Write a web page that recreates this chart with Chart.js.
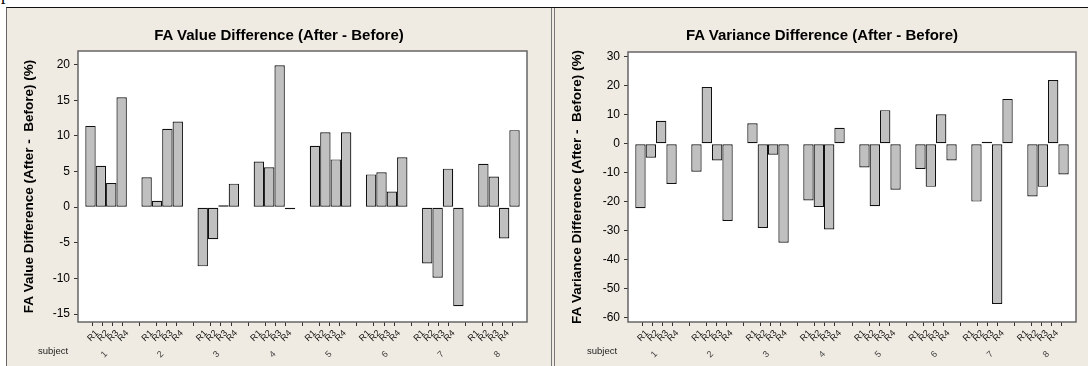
<!DOCTYPE html>
<html>
<head>
<meta charset="utf-8">
<title>FA difference charts</title>
<script src="https://cdn.jsdelivr.net/npm/chart.js"></script>
<style>
  body {
    margin: 0;
    width: 1088px;
    height: 366px;
    overflow: hidden;
    position: relative;
    background: #fff;
    font-family: "Liberation Sans", Arial, Helvetica, sans-serif;
  }
  .back {
    position: absolute;
    left: 6px; top: 7px; right: 0; bottom: 0;
    background: #efebe2;
    border-top: 1px solid #111;
    border-left: 1px solid #666;
  }
  .sep {
    position: absolute;
    top: 8px; bottom: 0;
    width: 1px;
    background: #777;
  }
  canvas { position: absolute; top: 8px; }
  .title {
    position: absolute;
    top: 25px;
    font-weight: bold;
    font-size: 15px;
    line-height: 19px;
    text-align: center;
    color: #000;
  }
  .subj {
    position: absolute;
    top: 345px;
    font-size: 9.5px;
    color: #222;
  }
  .cut {
    position: absolute;
    top: -16px; left: 1px;
    font-family: "Liberation Serif", serif;
    font-size: 18px;
  }
</style>
</head>
<body>
<div class="cut">p</div>
<div class="back"></div>
<div class="sep" style="left:551px"></div>
<div class="sep" style="left:554px"></div>

<canvas id="c1" width="544" height="358" style="left:7px"></canvas>
<canvas id="c2" width="532" height="358" style="left:556px"></canvas>

<div class="title" style="left:7px;width:544px">FA Value Difference (After - Before)</div>
<div class="title" style="left:556px;width:532px">FA Variance Difference (After - Before)</div>
<div class="subj" style="left:38px">subject</div>
<div class="subj" style="left:587px">subject</div>

<script>
  var subjects = ['1', '2', '3', '4', '5', '6', '7', '8'];
  var runs = ['R1', 'R2', 'R3', 'R4'];

  // FA value difference (%), one array per run, one value per subject
  var valueR1 = [11.4, 4.2, -8.3, 6.4, 8.6, 4.6, -7.9, 6.1];
  var valueR2 = [5.8, 0.9, -4.5, 5.6, 10.5, 4.9, -9.9, 4.3];
  var valueR3 = [3.4, 11.0, 0.05, 19.9, 6.7, 2.2, 5.4, -4.4];
  var valueR4 = [15.4, 12.0, 3.3, -0.15, 10.5, 7.0, -13.9, 10.8];

  // FA variance difference (%)
  var varR1 = [-22.3, -9.7, 7.1, -19.6, -8.2, -8.7, -20.0, -18.2];
  var varR2 = [-4.8, 19.6, -29.1, -21.9, -21.6, -14.9, 0.7, -14.9];
  var varR3 = [7.9, -5.8, -3.8, -29.6, 11.6, 10.2, -55.4, 22.0];
  var varR4 = [-13.9, -26.7, -34.2, 5.5, -15.9, -5.8, 15.5, -10.6];

  var valueTicks = [-15, -10, -5, 0, 5, 10, 15, 20];
  var varTicks = [-60, -50, -40, -30, -20, -10, 0, 10, 20, 30];

  var catPct = 0.74;

  Chart.defaults.font.family = '"Liberation Sans", Arial, Helvetica, sans-serif';

  // white plot area with a grey box round it
  var frame = {
    id: 'frame',
    beforeDraw: function(c) {
      var a = c.chartArea, ctx = c.ctx;
      ctx.save();
      ctx.fillStyle = '#fff';
      ctx.fillRect(a.left, a.top, a.right - a.left, a.bottom - a.top);
      ctx.restore();
    },
    afterDraw: function(c) {
      var a = c.chartArea, ctx = c.ctx;
      ctx.save();
      ctx.strokeStyle = '#666';
      ctx.lineWidth = 1.5;
      ctx.strokeRect(a.left, a.top, a.right - a.left, a.bottom - a.top);
      ctx.restore();
    }
  };

  function makeChart(id, series, yTicks, yMin, yMax, yTitle, opt) {
    return new Chart(document.getElementById(id), {
      type: 'bar',
      data: {
        labels: subjects,
        datasets: series.map(function(d, i) {
          return {
            label: runs[i],
            data: d,
            backgroundColor: '#c0c0c0',
            borderColor: '#111',
            borderWidth: 1.2,
            borderSkipped: false,
            minBarLength: 2,
            barPercentage: 1,
            categoryPercentage: catPct
          };
        })
      },
      options: {
        responsive: false,
        animation: false,
        layout: { padding: { top: opt.top, right: opt.right, left: 0, bottom: 0 } },
        plugins: { legend: { display: false }, tooltip: { enabled: false } },
        scales: {
          x: {
            type: 'category',
            position: 'bottom',
            weight: 2,
            grid: { display: false, drawTicks: false },
            border: { display: false },
            ticks: { font: { size: 9 }, color: '#444', minRotation: 45, maxRotation: 45, padding: 3 },
            afterFit: function(s) { s.height = 20; }
          },
          xr: {
            type: 'linear',
            position: 'bottom',
            weight: 1,
            min: -0.5,
            max: 7.5,
            grid: { display: true, drawOnChartArea: false, drawTicks: true, tickLength: 4, color: '#333' },
            border: { display: false },
            afterBuildTicks: function(s) {
              var t = [];
              subjects.forEach(function(g, gi) {
                runs.forEach(function(r, ri) {
                  t.push({ value: gi + (ri - 1.5) * catPct / 4 });
                });
              });
              s.ticks = t;
            },
            ticks: {
              autoSkip: false,
              minRotation: 45,
              maxRotation: 45,
              padding: 2,
              font: { size: 9 },
              color: '#111',
              callback: function(v, i) { return runs[i % 4]; }
            },
            afterFit: function(s) { s.height = 24; }
          },
          y: {
            min: yMin,
            max: yMax,
            afterBuildTicks: function(s) {
              s.ticks = yTicks.map(function(v) { return { value: v }; });
            },
            grid: { drawOnChartArea: false, tickLength: 4, color: '#333' },
            border: { display: false },
            ticks: { font: { size: 12 }, color: '#000', padding: 4 },
            title: {
              display: true,
              text: yTitle,
              font: { size: 13.5, weight: 'bold' },
              color: '#000',
              padding: { top: opt.titlePad, bottom: 0 }
            },
            afterFit: function(s) { s.width = opt.yWidth; }
          }
        }
      },
      plugins: [frame]
    });
  }

  makeChart('c1', [valueR1, valueR2, valueR3, valueR4], valueTicks, -16.1, 21.9,
    'FA Value Difference (After -  Before) (%)',
    { top: 43, right: 24, yWidth: 71, titlePad: 14 });

  makeChart('c2', [varR1, varR2, varR3, varR4], varTicks, -61.6, 31.7,
    'FA Variance Difference (After -  Before) (%)',
    { top: 44, right: 12, yWidth: 72, titlePad: 13 });
</script>
</body>
</html>
